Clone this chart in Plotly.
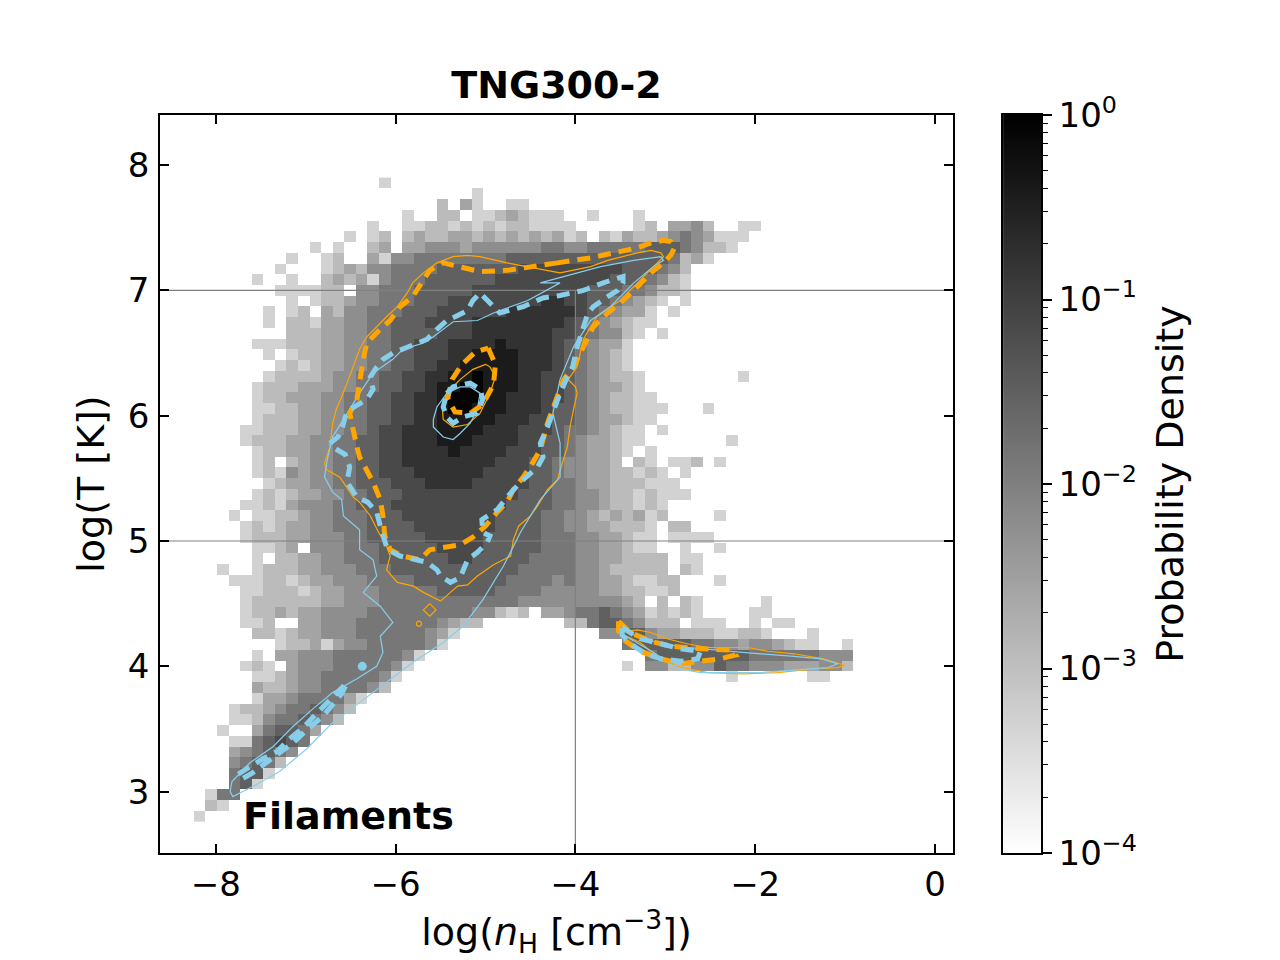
import numpy as np
import plotly.graph_objects as go

# 2D histogram binning (log nH on x, log T on y)
X_EDGE0, X_BIN = -8.5, 9 / 70
Y_EDGE0, Y_BIN = 2.5, 6 / 70
TOP_BIN_ROW = 62

# shade code (0 = lightest grey ... 9 = nearly black) -> log10(probability density)
SHADE_LOG10 = [-3.30, -2.94, -2.58, -2.22, -1.86, -1.50, -1.14, -0.78, -0.42, -0.06]

# one string per y-bin, top row first, one character per x-bin ('.' = empty)
DENSITY_ROWS = [
    ".......... ........0.",
    ".......... .......... ......0...",
    ".......... .......... ...1.20..0 0.........",
    ".......... .......... 0..11.0012 1000..0... 0.........",
    ".......... .......0.. 0011010101 10000..... 01.2231..0 0.........",
    ".......... .....0.01. 1211221212 121201.102 1123432000",
    ".......... ..0.0..12. 2233323333 3344334444 455543110.",
    ".......... 0..01..203 3444444445 5555555555 5554120...",
    ".........0 ...0121334 4445555555 6666666665 55431.....",
    ".......0.. 0..1212034 4455555566 6666666655 54310.....",
    ".........0 00011.3344 4555556666 6666665554 43110.....",
    ".......... 0.01123344 4555666666 6677665543 210.0.....",
    "........0. 01.2133444 5556666667 7777765432 20.0......",
    "........0. 1102233445 5566667777 7777654321 00........",
    ".......... 1112233445 5556667777 7776654331 0.0.......",
    ".......000 1112233445 5666777787 7776543220",
    "........0. 0112233445 5666778888 7776543210",
    ".........0 1012233445 5667788888 7776543210",
    "........01 1112334455 6677889888 7766543211 0........0",
    ".......011 1222334455 6678899888 7766543221 0.........",
    ".......011 2223344556 6778999887 7766543211 00........",
    ".......001 1223344556 6778998887 7765543211 000...0...",
    ".......011 1223344556 6778888877 7665543221 00........",
    "......0011 1223344566 7778888777 6665443210 0.0.......",
    "......0111 2233445566 7778887777 6655432210 0.......0.",
    ".......011 2233445566 7777877776 6655432210 .0........",
    ".......01. 1233445566 7777777766 655433221. 10.001.0..",
    ".......010 3233445566 6777777666 6554332211 010.0.....",
    "........01 2233445556 6677776666 6554432211 1000......",
    ".......010 1223344555 6666666666 5554433211 01000.....",
    "......0010 2333445556 6666666665 5554433211 010.......",
    ".....0.001 1233444555 6666666655 5544332121 201....0..",
    "......0101 2233444555 5666666655 5544332211 10.11.....",
    "......0111 2233344555 5566666555 5544433221 00.0000...",
    ".......001 2.33344455 5556666555 5544433221 00..0..0..",
    ".......0.1 1223344455 5555665555 5444433221 111.00....",
    "....0..011 1223334445 5555555555 4444433211 111.10....",
    ".....00011 0122333444 4555555554 4443433221 0011...0..",
    "......0011 1012233344 4445555544 4433333221 1001......",
    "......0111 1112233344 4444444444 3333333332 1.1.10.... .0........",
    "......0112 1223333444 4444443310 1.22344543 201010.... 00........",
    "......001. .223334444 4443211... ....114554 3111.000.. 0.00......",
    ".......110 1223334444 44320..... .......335 5322111001 10...0....",
    ".........0 1120233444 4430...... .........4 5555544332 332100..0.",
    ".......0.2 2333444444 30........ .......... .455555555 444444333.",
    "......010. 2333444443 0......... .........0 .331133544 333222331.",
    ".......001 2334444430 .......... .......... ........0. .....00...",
    ".......211 233444431.",
    ".......022 3444420...",
    ".....01123 445431....",
    ".....00134 45431.....",
    "....0..245 542.......",
    ".....00456 54........",
    ".....23454 3.........",
    ".....34541",
    ".....4550.",
    ".....450..",
    "...044....",
    "...10.....",
    "..0.......",
]

# contour paths (x = log nH, y = log T)
ORANGE_SOLID_OUTER = [
    (-4.17, 7.14), (-4.53, 7.19), (-4.76, 7.22), (-5.06, 7.27), (-5.20, 7.28), (-5.36, 7.27),
    (-5.54, 7.22), (-5.69, 7.14), (-5.81, 7.06), (-5.87, 6.98), (-5.98, 6.87), (-6.10, 6.79),
    (-6.21, 6.71), (-6.32, 6.63), (-6.40, 6.53), (-6.47, 6.39), (-6.54, 6.26), (-6.60, 6.15),
    (-6.66, 6.05), (-6.70, 5.94), (-6.73, 5.75), (-6.79, 5.62), (-6.77, 5.57), (-6.62, 5.51),
    (-6.54, 5.43), (-6.47, 5.35), (-6.40, 5.31), (-6.28, 5.20), (-6.19, 5.07), (-6.10, 4.96),
    (-6.06, 4.88), (-6.10, 4.77), (-5.98, 4.67), (-5.80, 4.64), (-5.69, 4.59), (-5.50, 4.52),
    (-5.39, 4.59), (-5.31, 4.64), (-5.20, 4.65), (-5.09, 4.72), (-4.91, 4.81), (-4.80, 4.85),
    (-4.72, 4.88), (-4.69, 5.01), (-4.63, 5.12), (-4.50, 5.20), (-4.42, 5.28), (-4.31, 5.41),
    (-4.20, 5.49), (-4.09, 5.75), (-4.06, 5.91), (-4.02, 6.05), (-3.98, 6.18), (-4.00, 6.23),
    (-4.08, 6.29), (-3.98, 6.39), (-3.94, 6.53), (-3.91, 6.61), (-3.83, 6.71), (-3.76, 6.79),
    (-3.61, 6.87), (-3.50, 6.92), (-3.42, 6.98), (-3.31, 7.06), (-3.20, 7.14), (-3.09, 7.22),
    (-3.02, 7.27), (-3.05, 7.30), (-3.16, 7.32), (-3.31, 7.30), (-3.46, 7.27), (-3.64, 7.24),
    (-3.83, 7.19), (-4.02, 7.16), (-4.17, 7.14),
]
ORANGE_SOLID_CORE = [
    (-4.95, 6.39), (-4.89, 6.31), (-4.95, 6.18), (-5.06, 6.02), (-5.20, 5.93), (-5.36, 5.91),
    (-5.47, 5.97), (-5.48, 6.07), (-5.43, 6.18), (-5.28, 6.29), (-5.14, 6.37), (-5.00, 6.41),
    (-4.95, 6.39),
]
ORANGE_SOLID_BRANCH = [
    (-3.52, 4.27), (-3.31, 4.29), (-3.16, 4.27), (-2.98, 4.22), (-2.76, 4.18), (-2.53, 4.15),
    (-2.31, 4.15), (-2.08, 4.15), (-1.86, 4.12), (-1.57, 4.10), (-1.24, 4.06), (-1.01, 4.01),
    (-1.08, 3.99), (-1.35, 3.98), (-1.75, 3.95), (-2.13, 3.94), (-2.53, 3.95), (-2.72, 3.98),
    (-2.87, 4.00), (-3.02, 4.06), (-3.16, 4.12), (-3.28, 4.19), (-3.42, 4.24), (-3.52, 4.27),
]
ORANGE_SOLID_ISLAND = [(-5.62, 4.50), (-5.55, 4.45), (-5.62, 4.40), (-5.69, 4.45), (-5.62, 4.50)]
ORANGE_DOT = (-5.74, 4.34)

ORANGE_DASH_OUTER = [
    (-4.20, 7.22), (-4.53, 7.18), (-4.76, 7.16), (-5.06, 7.15), (-5.28, 7.19), (-5.47, 7.22),
    (-5.62, 7.16), (-5.73, 7.03), (-5.81, 6.95), (-5.95, 6.87), (-6.06, 6.76), (-6.17, 6.69),
    (-6.32, 6.58), (-6.36, 6.45), (-6.40, 6.29), (-6.43, 6.13), (-6.51, 6.02), (-6.48, 5.91),
    (-6.43, 5.75), (-6.40, 5.67), (-6.32, 5.57), (-6.25, 5.47), (-6.17, 5.33), (-6.14, 5.20),
    (-6.12, 5.04), (-6.06, 4.93), (-5.92, 4.88), (-5.73, 4.85), (-5.62, 4.93), (-5.43, 4.95),
    (-5.28, 4.97), (-5.14, 5.03), (-5.00, 5.12), (-4.87, 5.23), (-4.76, 5.31), (-4.69, 5.41),
    (-4.58, 5.51), (-4.47, 5.63), (-4.39, 5.73), (-4.31, 5.94), (-4.22, 6.13), (-4.13, 6.29),
    (-4.02, 6.39), (-3.91, 6.55), (-3.80, 6.71), (-3.64, 6.82), (-3.47, 6.92), (-3.31, 7.03),
    (-3.16, 7.14), (-3.02, 7.22), (-2.94, 7.28), (-2.89, 7.35), (-2.94, 7.39), (-3.02, 7.40),
    (-3.16, 7.38), (-3.31, 7.34), (-3.50, 7.31), (-3.64, 7.28), (-3.83, 7.26), (-4.02, 7.24),
    (-4.20, 7.22),
]
ORANGE_DASH_CORE = [
    (-4.97, 6.54), (-4.89, 6.41), (-4.91, 6.25), (-5.03, 6.09), (-5.17, 6.02), (-5.34, 6.03),
    (-5.42, 6.14), (-5.37, 6.29), (-5.26, 6.41), (-5.11, 6.51), (-4.97, 6.54),
]
ORANGE_DASH_BRANCH = [
    (-3.52, 4.36), (-3.39, 4.27), (-3.16, 4.20), (-2.94, 4.16), (-2.61, 4.14), (-2.27, 4.13),
    (-2.22, 4.09), (-2.39, 4.06), (-2.61, 4.04), (-2.83, 4.02), (-3.05, 4.06), (-3.28, 4.12),
    (-3.44, 4.20), (-3.52, 4.28), (-3.52, 4.36),
]

BLUE_SOLID_OUTER = [
    (-4.17, 7.06), (-4.53, 6.92), (-4.91, 6.82), (-5.09, 6.76), (-5.36, 6.75), (-5.58, 6.63),
    (-5.69, 6.58), (-5.92, 6.53), (-6.03, 6.45), (-6.25, 6.34), (-6.40, 6.18), (-6.54, 6.02),
    (-6.70, 5.83), (-6.76, 5.65), (-6.79, 5.51), (-6.70, 5.39), (-6.60, 5.33), (-6.58, 5.20),
    (-6.40, 5.09), (-6.40, 4.93), (-6.25, 4.85), (-6.21, 4.72), (-6.36, 4.59), (-6.17, 4.48),
    (-6.03, 4.35), (-6.17, 4.24), (-6.14, 4.11), (-6.21, 4.00), (-6.43, 3.90), (-6.70, 3.79),
    (-6.92, 3.66), (-7.14, 3.52), (-7.36, 3.36), (-7.62, 3.23), (-7.82, 3.08), (-7.84, 3.00),
    (-7.81, 2.96), (-7.59, 3.04), (-7.29, 3.16), (-6.99, 3.34), (-6.70, 3.55), (-6.40, 3.71),
    (-6.10, 3.87), (-5.81, 4.03), (-5.47, 4.19), (-5.25, 4.32), (-5.03, 4.53), (-4.80, 4.80),
    (-4.61, 5.07), (-4.39, 5.33), (-4.17, 5.51), (-4.17, 5.78), (-4.25, 6.02), (-4.17, 6.29),
    (-4.02, 6.55), (-3.83, 6.76), (-3.61, 6.87), (-3.35, 7.06), (-3.13, 7.19), (-3.02, 7.24),
    (-3.05, 7.27), (-3.35, 7.24), (-3.72, 7.19), (-4.09, 7.12), (-4.39, 7.06), (-4.17, 7.06),
]
BLUE_SOLID_CORE = [
    (-5.58, 5.97), (-5.54, 6.07), (-5.43, 6.18), (-5.28, 6.23), (-5.17, 6.23), (-5.06, 6.18),
    (-5.09, 6.05), (-5.17, 5.94), (-5.28, 5.86), (-5.36, 5.81), (-5.47, 5.83), (-5.58, 5.91),
    (-5.58, 5.97),
]
BLUE_SOLID_BRANCH = [
    (-3.50, 4.29), (-3.31, 4.24), (-3.09, 4.19), (-2.87, 4.16), (-2.61, 4.14), (-2.31, 4.12),
    (-1.94, 4.10), (-1.57, 4.08), (-1.27, 4.06), (-1.08, 4.02), (-1.19, 3.99), (-1.57, 3.97),
    (-1.94, 3.95), (-2.31, 3.95), (-2.61, 3.95), (-2.83, 3.98), (-2.98, 4.03), (-3.13, 4.11),
    (-3.31, 4.19), (-3.46, 4.25), (-3.50, 4.29),
]

BLUE_DASH_RING = [
    (-6.73, 5.78), (-6.64, 5.83), (-6.59, 5.91), (-6.56, 5.99), (-6.51, 6.05), (-6.40, 6.09),
    (-6.32, 6.13), (-6.25, 6.21), (-6.28, 6.31), (-6.21, 6.39), (-6.14, 6.45), (-6.03, 6.50),
    (-5.92, 6.53), (-5.76, 6.57), (-5.65, 6.61), (-5.54, 6.69), (-5.43, 6.76), (-5.31, 6.80),
    (-5.20, 6.84), (-5.14, 6.92), (-5.06, 6.98), (-4.95, 6.90), (-4.84, 6.82), (-4.58, 6.87),
    (-4.36, 6.94), (-4.17, 6.96), (-4.02, 6.98), (-3.91, 7.00), (-3.69, 7.06), (-3.58, 7.08),
    (-3.47, 7.11), (-3.47, 7.06), (-3.53, 7.00), (-3.64, 6.95), (-3.80, 6.87), (-3.86, 6.82),
    (-3.91, 6.71), (-3.98, 6.55), (-4.03, 6.39), (-4.09, 6.31), (-4.17, 6.18), (-4.25, 6.02),
    (-4.31, 5.91), (-4.39, 5.78), (-4.36, 5.67), (-4.42, 5.59), (-4.61, 5.47), (-4.76, 5.35),
    (-4.87, 5.25), (-5.04, 5.17), (-5.03, 5.07), (-4.95, 5.04), (-4.98, 4.99), (-5.09, 4.91),
    (-5.20, 4.85), (-5.28, 4.71), (-5.39, 4.67), (-5.50, 4.72), (-5.54, 4.77), (-5.65, 4.83),
    (-5.76, 4.85), (-5.95, 4.88), (-6.09, 4.93), (-6.14, 5.04), (-6.17, 5.12), (-6.21, 5.23),
    (-6.31, 5.31), (-6.43, 5.35), (-6.54, 5.47), (-6.51, 5.59), (-6.56, 5.69), (-6.70, 5.75),
    (-6.73, 5.78),
]
BLUE_DASH_CORE = [
    (-5.43, 6.18), (-5.36, 6.23), (-5.17, 6.26), (-5.06, 6.21), (-5.03, 6.13), (-5.09, 6.02),
    (-5.25, 5.99), (-5.36, 5.94), (-5.43, 5.99), (-5.47, 6.07), (-5.43, 6.18),
]
BLUE_DASH_TAIL = [
    (-7.75, 3.14), (-7.62, 3.20), (-7.48, 3.26), (-7.32, 3.32), (-7.18, 3.42), (-7.03, 3.51),
    (-6.90, 3.60), (-6.76, 3.71), (-6.65, 3.79), (-6.54, 3.87), (-6.60, 3.78), (-6.81, 3.60),
    (-6.99, 3.49), (-7.14, 3.39), (-7.29, 3.31), (-7.43, 3.23), (-7.59, 3.15), (-7.71, 3.10),
    (-7.75, 3.14),
]
BLUE_DASH_BRANCH = [
    (-3.48, 4.31), (-3.28, 4.22), (-3.05, 4.18), (-2.83, 4.14), (-2.61, 4.12), (-2.64, 4.06),
    (-2.83, 4.04), (-3.05, 4.06), (-3.22, 4.10), (-3.39, 4.18), (-3.48, 4.25), (-3.48, 4.31),
]
BLUE_DOT = (-6.37, 4.00)

X_RANGE = [-8.62, 0.2]
Y_RANGE = [2.51, 8.40]
X_TICKS = [-8, -6, -4, -2, 0]
Y_TICKS = [3, 4, 5, 6, 7, 8]
REF_T = [5, 7]
REF_NH = -4
CB_TICKS = [-4, -3, -2, -1, 0]

ORANGE = "#FFA500"
SKYBLUE = "#87CEEB"
FONT = "DejaVu Sans"
GRAY_R = [[0, "#ffffff"], [1, "#000000"]]


def decode_density(rows):
    grid = [r.replace(" ", "") for r in rows]
    width = max(len(r) for r in grid)
    z = []
    for r in reversed(grid):
        r = r.ljust(width, ".")
        z.append([None if c == "." else SHADE_LOG10[int(c)] for c in r])
    bottom_row = TOP_BIN_ROW - len(grid) + 1
    xc = X_EDGE0 + (np.arange(width) + 0.5) * X_BIN
    yc = Y_EDGE0 + (np.arange(bottom_row, TOP_BIN_ROW + 1) + 0.5) * Y_BIN
    return xc, yc, z


def add_path(fig, points, color, width, dash="solid"):
    xs, ys = zip(*points)
    fig.add_trace(
        go.Scatter(
            x=xs, y=ys, mode="lines",
            line=dict(color=color, width=width, dash=dash),
            showlegend=False, hoverinfo="skip",
        )
    )


xc, yc, z = decode_density(DENSITY_ROWS)

fig = go.Figure()
fig.add_trace(
    go.Heatmap(
        x=xc, y=yc, z=z, zmin=-4, zmax=0, colorscale=GRAY_R,
        showscale=False, hoverongaps=False,
    )
)

# reference lines
for t in REF_T:
    add_path(fig, [(X_RANGE[0], t), (X_RANGE[1], t)], "#808080", 1.2)
add_path(fig, [(REF_NH, Y_RANGE[0]), (REF_NH, REF_T[1])], "#808080", 1.2)

# thin contours
for path in (ORANGE_SOLID_OUTER, ORANGE_SOLID_CORE, ORANGE_SOLID_BRANCH, ORANGE_SOLID_ISLAND):
    add_path(fig, path, ORANGE, 1.2)
for path in (BLUE_SOLID_OUTER, BLUE_SOLID_CORE, BLUE_SOLID_BRANCH):
    add_path(fig, path, SKYBLUE, 1.2)

# thick dashed contours
dash = "13px,8px"
for path in (ORANGE_DASH_OUTER, ORANGE_DASH_CORE, ORANGE_DASH_BRANCH):
    add_path(fig, path, ORANGE, 5, dash)
for path in (BLUE_DASH_RING, BLUE_DASH_CORE, BLUE_DASH_TAIL, BLUE_DASH_BRANCH):
    add_path(fig, path, SKYBLUE, 5, dash)

fig.add_trace(go.Scatter(x=[ORANGE_DOT[0]], y=[ORANGE_DOT[1]], mode="markers",
                         marker=dict(symbol="circle-open", size=5, color=ORANGE, line=dict(width=1.2)),
                         showlegend=False, hoverinfo="skip"))
fig.add_trace(go.Scatter(x=[BLUE_DOT[0]], y=[BLUE_DOT[1]], mode="markers",
                         marker=dict(size=9, color=SKYBLUE),
                         showlegend=False, hoverinfo="skip"))

# colour bar drawn as its own small panel so it can carry log minor ticks
cb_levels = np.linspace(-4, 0, 256)
fig.add_trace(
    go.Heatmap(
        x=[0], y=cb_levels, z=[[v] for v in cb_levels], zmin=-4, zmax=0,
        colorscale=GRAY_R, showscale=False, xaxis="x2", yaxis="y2", hoverinfo="skip",
    )
)
cb_minor = [e + np.log10(m) for e in range(-4, 0) for m in range(2, 10)]

axis_common = dict(
    showline=True, linecolor="black", linewidth=1.6, mirror="ticks",
    ticks="inside", ticklen=9, tickwidth=1.6, tickcolor="black",
    showgrid=False, zeroline=False, tickfont=dict(family=FONT, size=34, color="black"),
    automargin=False,
)

fig.update_layout(
    width=1280, height=960,
    margin=dict(l=152, r=247, t=107, b=115),
    paper_bgcolor="white", plot_bgcolor="white",
    font=dict(family=FONT, color="black"),
    title=dict(
        text="<b>TNG300-2</b>", font=dict(family=FONT, size=38, color="black"),
        x=0.45, xref="paper", xanchor="center", y=1 - 77 / 960, yref="container", yanchor="middle",
    ),
    xaxis=dict(
        axis_common, domain=[0, 0.9001], range=X_RANGE, tickvals=X_TICKS,
        ticklabelstandoff=0,
        title=dict(text="log(<i>n</i><sub>H</sub> [cm<sup>−3</sup>])",
                   font=dict(family=FONT, size=38, color="black"), standoff=16),
    ),
    yaxis=dict(
        axis_common, domain=[0, 1], range=Y_RANGE, tickvals=Y_TICKS,
        ticklabelstandoff=2,
        title=dict(text="log(T [K])", font=dict(family=FONT, size=38, color="black"), standoff=11),
    ),
    xaxis2=dict(
        domain=[0.957, 1.0], range=[-0.5, 0.5], anchor="y2",
        showline=True, linecolor="black", linewidth=1.6, mirror=True,
        showticklabels=False, ticks="", showgrid=False, zeroline=False,
    ),
    yaxis2=dict(
        domain=[0, 1], range=[-4, 0], anchor="x2", side="right",
        showline=True, linecolor="black", linewidth=1.6, mirror=True,
        ticks="outside", ticklen=9, tickwidth=1.6, tickcolor="black",
        tickvals=CB_TICKS,
        ticktext=["10<sup>−4</sup>", "10<sup>−3</sup>", "10<sup>−2</sup>", "10<sup>−1</sup>", "10<sup>0</sup>"],
        minor=dict(tickvals=cb_minor, ticks="outside", ticklen=5, tickwidth=1.2, tickcolor="black"),
        showgrid=False, zeroline=False, automargin=False,
        tickfont=dict(family=FONT, size=34, color="black"),
        title=dict(text="Probability Density", font=dict(family=FONT, size=38, color="black"), standoff=20),
    ),
    annotations=[
        dict(
            x=-7.72, y=2.805, xref="x", yref="y", text="<b>Filaments</b>",
            showarrow=False, xanchor="left", yanchor="middle",
            font=dict(family=FONT, size=38, color="black"),
        )
    ],
)

fig.write_html("out.html")
